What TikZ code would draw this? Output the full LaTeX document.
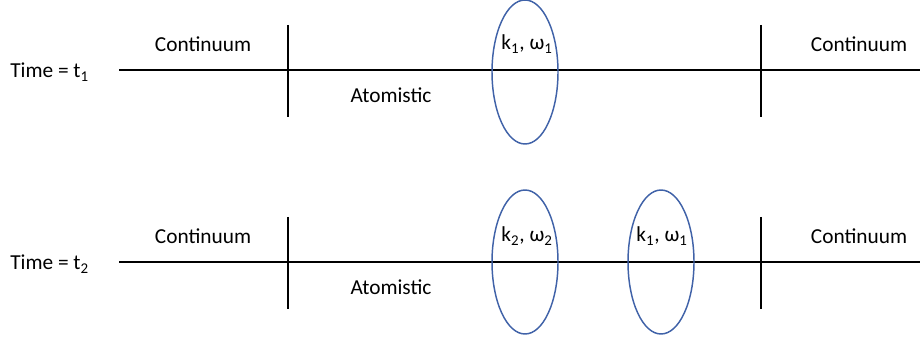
\documentclass[tikz,border=0pt]{standalone}
\usepackage{fontspec}
\setmainfont{Carlito}
\usepackage{tikz}
\usetikzlibrary{shapes.geometric}
\definecolor{ringblue}{RGB}{64,98,168}

\begin{document}
\begin{tikzpicture}[x=0.75pt,y=-0.75pt,font=\fontsize{16}{19}\selectfont,
  axis/.style={line width=1.3pt,black},
  wave/.style={ellipse,draw=ringblue,line width=1.1pt,minimum width=49.5pt,minimum height=108pt,inner sep=0pt},
  lbl/.style={inner sep=0pt,anchor=center}]
\useasboundingbox (0,0) rectangle (920,341);
% two snapshots in time
\foreach \r/\y/\t in {top/70/1,bot/262/2} {
   \node[lbl,anchor=west] (time\r) at (10,\y+2) {Time = t\textsubscript{\t}};
   \coordinate (start\r) at (119,\y);
   \coordinate (end\r) at (920,\y);
   \draw[axis] (start\r) -- (end\r);
   \coordinate (lefttop\r) at (288,\y-45);
   \coordinate (leftbot\r) at (288,\y+47);
   \coordinate (righttop\r) at (761,\y-45);
   \coordinate (rightbot\r) at (761,\y+47);
   \draw[axis] (lefttop\r) -- (leftbot\r);
   \draw[axis] (righttop\r) -- (rightbot\r);
   \node[lbl] (contl\r) at (203,\y-26) {Continuum};
   \node[lbl] (contr\r) at (859,\y-26) {Continuum};
   \node[lbl] (atom\r) at (391,\y+25) {Atomistic};
}
\node[wave] (ringtop) at (525,72) {};
\node[lbl] (kwtop) at (527,44) {k\textsubscript{1}, ω\textsubscript{1}};
\node[wave] (ringa) at (525,262) {};
\node[lbl] (kwa) at (527,236) {k\textsubscript{2}, ω\textsubscript{2}};
\node[wave] (ringb) at (661,262) {};
\node[lbl] (kwb) at (662,236) {k\textsubscript{1}, ω\textsubscript{1}};
\end{tikzpicture}
\end{document}
